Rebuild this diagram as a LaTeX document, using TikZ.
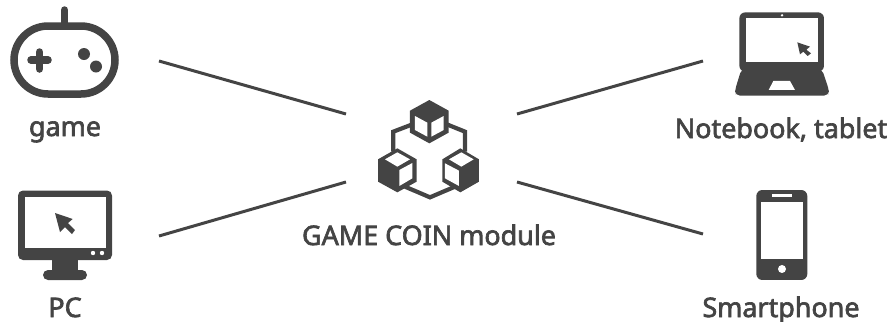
\documentclass[tikz,border=0pt]{standalone}
\usepackage{fontspec}
\setmainfont{Noto Sans}
\newfontfamily\capfont[FakeBold=2.5]{Noto Sans}
\usepackage{tikz}
\definecolor{icongray}{HTML}{444444}
\tikzset{
  icon/.style={fill=icongray,draw=none},
  hole/.style={fill=white,draw=none},
  link/.style={draw=icongray,line width=0.03cm},
  wire/.style={draw=icongray,line width=0.042cm,line join=miter},
  caption/.style={text=icongray,font=\capfont\fontsize{7.65pt}{9pt}\selectfont,inner sep=0pt,anchor=base}
}
\begin{document}
\begin{tikzpicture}[x=0.01cm,y=-0.01cm]
  \useasboundingbox (0,0) rectangle (894,321);

  % Labels
  \node[caption] (game) at (65,136) {game};
  \node[caption] (pc) at (65,317) {PC};
  \node[caption] (module) at (429,245) {GAME COIN module};
  \node[caption] (notebook) at (781,138) {Notebook, tablet};
  \node[caption] (smartphone) at (781,317) {Smartphone};

  % Connector ends
  \coordinate (gameend) at (159,61);
  \coordinate (pcend) at (159,236);
  \coordinate (notebookend) at (703,61);
  \coordinate (phoneend) at (703,234);
  \coordinate (modulenw) at (346,114);
  \coordinate (modulesw) at (346,182);
  \coordinate (modulene) at (517,114);
  \coordinate (modulese) at (517,182);
  \draw[link] (gameend) -- (modulenw);
  \draw[link] (pcend) -- (modulesw);
  \draw[link] (notebookend) -- (modulene);
  \draw[link] (phoneend) -- (modulese);

  % Gamepad
  \draw[draw=icongray,line width=0.075cm,line cap=round] (64.5,10) -- (64.5,24);
  \draw[draw=icongray,line width=0.075cm,rounded corners=0.34cm] (14,26) rectangle (115,94);
  \draw[draw=icongray,line width=0.075cm,line cap=round] (31,60) -- (48,60);
  \draw[draw=icongray,line width=0.075cm,line cap=round] (39.5,52) -- (39.5,69);
  \fill[icon] (84,54) circle (6);
  \fill[icon] (96,66.5) circle (6);

  % Monitor
  \fill[icon,rounded corners=0.05cm] (18,190.5) rectangle (112,260);
  \fill[hole] (25,197) rectangle (106,248);
  \fill[hole] (93,253) circle (2.2);
  \fill[hole] (102,253) circle (2.2);
  \fill[icon] (52,259) rectangle (78,272);
  \fill[icon,rounded corners=0.05cm] (43,270) rectangle (87,280);
  \fill[icon] (55,213) -- (72.7,219) -- (68,223) -- (75,230) -- (72,234) -- (65,227) -- (60,232) -- cycle;

  % Cubes
  \begin{scope}[shift={(350,80)},scale=0.3333]
    \draw[wire] (190,132) -- (130,155) -- (130,215);
    \draw[wire] (288,132) -- (345,155) -- (345,215);
    \draw[wire] (165,320) -- (240,352) -- (315,320);
    \fill[icon] (238,60) -- (296,92) -- (296,158) -- (238,190) -- (180,158) -- (180,92) -- cycle;
    \fill[hole] (195,108) -- (232,128) -- (232,170) -- (195,150) -- cycle;
    \fill[hole] (244,128) -- (281,108) -- (281,150) -- (244,170) -- cycle;
    \fill[icon] (142,205) -- (200,238) -- (200,305) -- (142,337) -- (84,305) -- (84,238) -- cycle;
    \fill[hole] (105,238) -- (142,217) -- (180,238) -- (142,260) -- cycle;
    \fill[hole] (148,270) -- (187,249) -- (187,295) -- (148,318) -- cycle;
    \fill[icon] (331,205) -- (387,238) -- (387,305) -- (331,337) -- (277,305) -- (277,238) -- cycle;
    \fill[hole] (297,238) -- (334,217) -- (371,238) -- (334,260) -- cycle;
    \fill[hole] (285,250) -- (327,272) -- (327,318) -- (285,295) -- cycle;
  \end{scope}

  % Laptop
  \begin{scope}[shift={(700,0)},scale=0.3333]
    \fill[icon,rounded corners=0.06cm] (118,37) rectangle (372,215);
    \fill[icon,rounded corners=0.05cm] (125,205) -- (365,205) -- (387,270) -- (387,287) -- (105,287) -- (105,270) -- cycle;
    \fill[hole] (138,55) rectangle (354,187);
    \fill[hole] (246,46) circle (4);
    \fill[hole] (220,243) -- (270,243) -- (285,270) -- (206,270) -- cycle;
    \fill[icon] (292,127) -- (330,140) -- (319,149) -- (333,160) -- (323,168) -- (310,155) -- (300,163) -- cycle;
  \end{scope}

  % Phone
  \begin{scope}[shift={(700,180)},scale=0.3333]
    \fill[icon,rounded corners=0.06cm] (169,30) rectangle (322,300);
    \fill[hole] (184,65) rectangle (308,238);
    \fill[hole] (215,43) rectangle (276,52);
    \fill[hole] (246,267) circle (12);
  \end{scope}
\end{tikzpicture}
\end{document}
